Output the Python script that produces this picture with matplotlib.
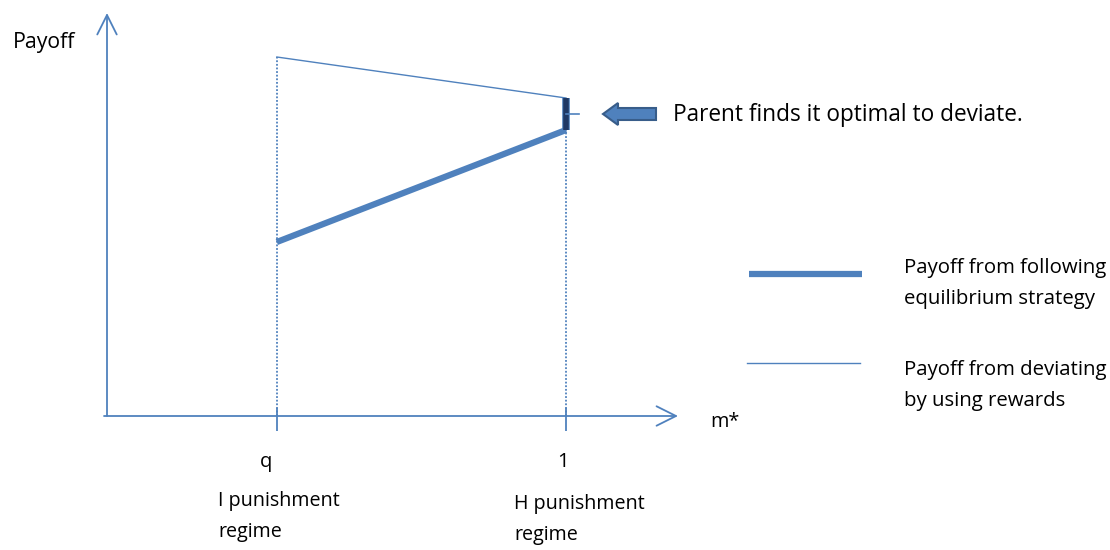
import matplotlib
matplotlib.use("Agg")
import matplotlib.pyplot as plt
from matplotlib.patches import FancyArrow
import matplotlib.patheffects as pe

# ---- data ----
m_labels = ["q", "1"]
m_points = [0.37, 1.0]
eq_payoff = [1.74, 2.86]      # payoff from following equilibrium strategy
dev_payoff = [3.59, 3.18]     # payoff from deviating by using rewards
regime_labels = ["I punishment\nregime", "H punishment\nregime"]
legend_labels = ["Payoff from following\nequilibrium strategy",
                 "Payoff from deviating\nby using rewards"]

BLUE = "#4F81BD"
DARK = "#1F3864"
EDGE = "#385D8A"
FONT = "Open Sans"

W, H = 1110, 550
fig = plt.figure(figsize=(W / 100, H / 100), dpi=100)
ax = fig.add_axes([0, 0, 1, 1])
X0, XS, Y0, YS = 107, 459.0, 416, 100.0
ax.set_xlim(-X0 / XS, (W - X0) / XS)
ax.set_ylim(-(H - Y0) / YS, Y0 / YS)
ax.axis("off")

def px(x):
    return (x - X0) / XS

def py(y):
    return (Y0 - y) / YS

# axes with open arrows
ax.annotate("", xy=(0, py(13)), xytext=(0, 0),
            arrowprops=dict(arrowstyle="->,head_length=1.4,head_width=0.7", color=BLUE, lw=1.3,
                            shrinkA=0, shrinkB=0))
ax.annotate("", xy=(px(678), 0), xytext=(px(104), 0),
            arrowprops=dict(arrowstyle="->,head_length=1.4,head_width=0.7", color=BLUE, lw=1.3,
                            shrinkA=0, shrinkB=0))

# ticks on x axis
for m in m_points:
    ax.plot([m, m], [py(408), py(431)], color=BLUE, lw=1.3, solid_capstyle="butt")

# dotted verticals
for m, d in zip(m_points, dev_payoff):
    ax.plot([m, m], [0, d], color=BLUE, lw=1.3, ls=(0, (1, 1)))

# deviation payoff line (thin)
ax.plot(m_points, dev_payoff, color=BLUE, lw=1.0)
# equilibrium payoff line (thick)
ax.plot(m_points, eq_payoff, color=BLUE, lw=4.5, solid_capstyle="butt")

# dark bar showing the gap at m*=1
ax.plot([m_points[1], m_points[1]], [eq_payoff[1], dev_payoff[1]], color=DARK, lw=4,
        solid_capstyle="butt",
        path_effects=[pe.Stroke(linewidth=5.5, foreground=BLUE), pe.Normal()])
mid = (eq_payoff[1] + dev_payoff[1]) / 2
ax.plot([m_points[1], px(579)], [mid, mid], color=BLUE, lw=1.2)

# block arrow
ax.add_patch(FancyArrow(px(656), mid, px(603) - px(656), 0, width=0.12, head_width=0.22,
                        head_length=15 / XS, length_includes_head=True,
                        fc=BLUE, ec=EDGE, lw=1.5))

ax.text(px(673), py(121), "Parent finds it optimal to deviate.", fontsize=16.3, family=FONT,
        va="baseline", ha="left")
ax.text(px(13), py(48), "Payoff", fontsize=15.3, family=FONT, va="baseline", ha="left")
ax.text(px(710), py(427), "m*", fontsize=14.3, family=FONT, va="baseline", ha="left")
for m, lab, dx in zip(m_points, m_labels, [-11, -3]):
    ax.text(m + dx / XS, py(467), lab, fontsize=14.5, family=FONT, va="baseline", ha="center")

ls = 1.72
ax.text(px(218), py(537), regime_labels[0], fontsize=14.2, family=FONT, va="baseline",
        ha="left", linespacing=ls)
ax.text(px(514), py(540), regime_labels[1], fontsize=14.2, family=FONT, va="baseline",
        ha="left", linespacing=ls)

# legend
ax.plot([px(749), px(862)], [py(274), py(274)], color=BLUE, lw=4.5, solid_capstyle="butt")
ax.plot([px(747), px(860)], [py(363), py(363)], color=BLUE, lw=1.0)
ax.text(px(904), py(304), legend_labels[0], fontsize=14.7, family=FONT, va="baseline",
        ha="left", linespacing=ls)
ax.text(px(904), py(406), legend_labels[1], fontsize=14.7, family=FONT, va="baseline",
        ha="left", linespacing=ls)

fig.savefig("out.png", dpi=100)
